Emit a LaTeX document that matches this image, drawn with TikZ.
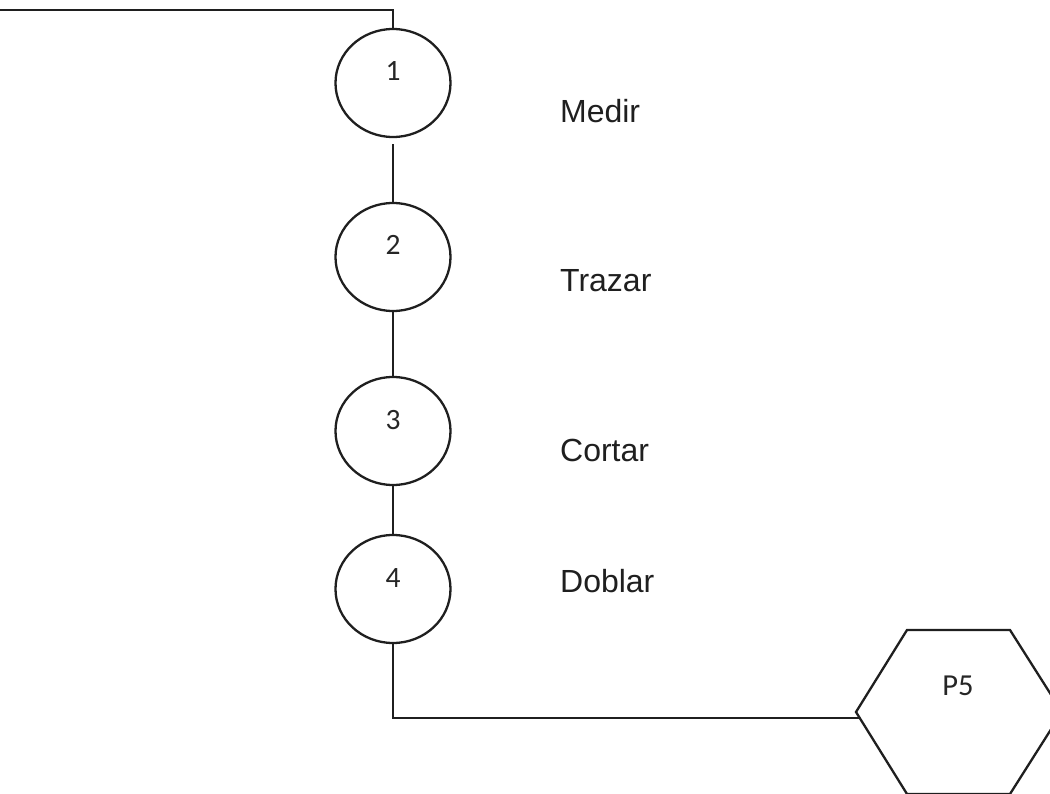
\documentclass[tikz,border=0pt]{standalone}
\usepackage{fontspec}
\setmainfont{Liberation Sans}
\newfontfamily\numfont{Carlito}
\usetikzlibrary{shapes.geometric}
\begin{document}
\begin{tikzpicture}[x=1pt,y=-1pt,
  line width=2.3pt, draw=black!88,
  stepcircle/.style={ellipse, draw, minimum width=115pt, minimum height=108pt, inner sep=0pt},
  numtext/.style={font=\numfont\fontsize{29.5}{31}\selectfont, text=black!85, anchor=base, inner sep=0pt},
  steptext/.style={font=\fontsize{32}{34}\selectfont, text=black!88, anchor=base west, inner sep=0pt},
  conn/.style={line width=2.3pt, draw=black!88}]
\useasboundingbox (0,0) rectangle (1050,794);
\node[stepcircle] (c1) at (393,83) {};
\node[stepcircle] (c2) at (393,257) {};
\node[stepcircle] (c3) at (393,431) {};
\node[stepcircle] (c4) at (393,589) {};
\node[numtext] (n1) at (393,81) {1};
\node[numtext] (n2) at (393,255) {2};
\node[numtext] (n3) at (393,429) {3};
\node[numtext] (n4) at (393,587) {4};
\node[steptext] (t1) at (559,123) {Medir};
\node[steptext] (t2) at (559,292) {Trazar};
\node[steptext] (t3) at (559,461) {Cortar};
\node[steptext] (t4) at (559,592) {Doblar};
% hexagon
\draw[conn, line join=miter] (856,712) -- (907,630) -- (1010,630) -- (1062,712) -- (1010,794) -- (907,794) -- cycle;
\coordinate (p5w) at (859,718);
\node[font=\numfont\fontsize{30.5}{32}\selectfont, text=black!85, anchor=base, inner sep=0pt] (p5) at (958,695) {P5};
\coordinate (start) at (0,10);
\coordinate (corner) at (393,10);
\coordinate (corner2) at (393,718);
\draw[conn] (start) -- (corner) -- (c1.north);
\draw[conn, shorten <=6pt] (c1.south) -- (c2.north);
\draw[conn] (c2.south) -- (c3.north);
\draw[conn] (c3.south) -- (c4.north);
\draw[conn] (c4.south) -- (corner2) -- (p5w);
\end{tikzpicture}
\end{document}
